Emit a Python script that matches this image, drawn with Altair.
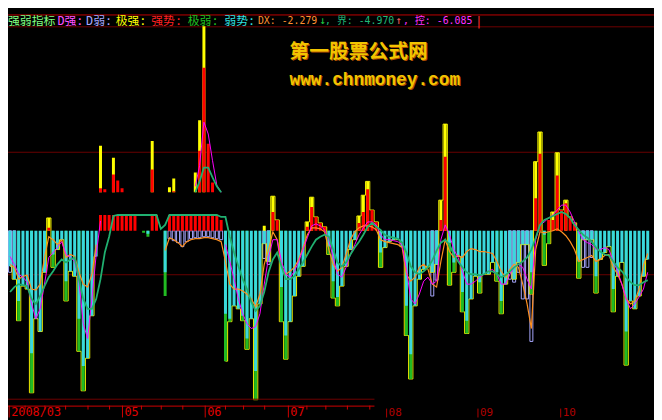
import altair as alt
import pandas as pd

# ---------------- data ----------------
N = 149  # daily bars, 2008/03 .. 2008/10

# 弱势 (cyan sticks, negative)
weak = [
    -3.6, -4.9, -7.1, -5.6, -5.9, -12.4, -8.9, -10.2, -4.2, 0,
    -2.4, -1.9, -0.9, -5.1, -4.1, -4.6, -8.9, -13.7, -12.9, -8.6,
    -2.6, 0, 0, 0, 0, 0, 0, 0, 0, 0,
    0, 0, -0.3, 0, 0, 0, -4.2, 0, 0, 0,
    0, 0, 0, 0, 0, 0, 0, 0, 0, 0,
    -8.4, -8.9, -7.6, -7.9, -8.6, -10.9, -8.9, -14.2, -7.4, -1.3,
    -3.1, 0, 0, -5.7, -10.6, -9.2, -6.6, -4.6, -3.6, 0,
    0, 0, 0, 0, -1.6, -5.1, -6.7, -5.6, -3.6, -1.9,
    -0.9, 0, 0, 0, 0, 0, -2.2, -1.7, -1.1, -0.9,
    -0.9, -1.6, -7.6, -12.5, -7.6, -4.9, -3.9, -3.6, -4.2, -3.4,
    0, 0, -1.2, -3.2, -2.6, -6.2, -9.1, -6.9, -4.6, -5.2,
    -4.4, -4.4, -3.2, -4.2, -7.1, -5.4, -4.2, -4.9, -3.2, -1.4,
    -1.4, -4.2, 0, 0, -0.4, 0, 0, 0, 0, 0,
    0, 0, -3.1, -0.9, -0.9, -0.9, -4.6, -2.9, -2.2, -1.6,
    -5.9, -4.6, -3.2, -10.2, -7.1, -7.9, -6.6, -4.6, -2.9,
]

# 极弱 (green sticks)
extreme_weak = {2: -9.1, 5: -16.4, 10: -3.7, 13: -7.1, 16: -12.2, 17: -16.2, 31: -0.2, 32: -0.6,
                36: -6.6, 50: -13.2, 51: -9.2, 54: -9.1, 55: -12.0, 57: -17.1, 63: -9.2, 64: -13.0,
                74: -2.4, 75: -6.8, 76: -7.6, 86: -3.7, 92: -10.6, 93: -15.0, 102: -5.5, 103: -4.2,
                105: -8.2, 106: -10.4, 109: -6.3, 113: -5.1, 114: -8.4, 121: -6.4, 124: -3.5,
                125: -1.3, 132: -4.8, 136: -6.3, 140: -8.2, 143: -13.6}

# 强势 (red sticks)
strong = {9: 0.3, 61: 1.9, 62: 1.1, 69: 0.4, 70: 2.4, 71: 1.4, 72: 0.8, 73: 0.4, 81: 0.8, 82: 1.9,
          83: 4.2, 84: 2.1, 85: 0.9, 100: 1.1, 101: 7.5, 122: 3.3, 123: 7.8, 125: 1.1, 126: 1.1,
          127: 5.6, 128: 2.1, 129: 2.8, 130: 1.4, 131: 0.8}

# 极强 (yellow sticks)
extreme_strong = {9: 1.3, 59: 0.5, 61: 3.5, 69: 0.9, 70: 3.4, 81: 1.5, 82: 3.6, 83: 5.0, 100: 3.1,
                  101: 10.8, 122: 7.0, 123: 10.0, 126: 1.9, 127: 7.9, 129: 3.1}

# D弱 (lavender hollow sticks)
d_weak = {0: -4.2, 1: -3.5, 37: -0.8, 38: -1.0, 39: -1.2, 40: -1.6, 41: -1.1, 42: -0.8, 43: -0.7,
          44: -0.7, 45: -0.6, 46: -0.6, 47: -0.7, 48: -0.8, 49: -0.9, 59: -2.8, 60: -3.4,
          98: -6.6, 99: -5.0, 116: -4.9, 117: -5.2, 118: -4.2, 119: -6.9, 120: -6.9, 121: -11.2,
          133: -3.7, 134: -3.7, 135: -2.7}

# red band drawn over the spring segment
band_index = [21, 22, 23, 24, 25, 26, 27, 28, 29, 33, 34, 37, 38, 39, 40, 41, 42, 43, 44, 45, 46, 47, 48, 49]
band_value = [1.6, 1.6, 1.6, 1.6, 1.6, 1.6, 1.6, 1.6, 1.6, 1.6, 1.6, 1.6, 1.6, 1.6, 1.6, 1.6, 1.6,
              1.6, 1.6, 1.6, 1.6, 1.6, 1.6, 1.1]

# raised segment (spikes standing on a shifted base)
upper_base = 3.9
upper_strong = {21: 4.3, 22: 4.2, 24: 5.7, 25: 5.1, 26: 4.3, 33: 6.2, 38: 4.0, 44: 8.1, 45: 16.5,
                46: 8.8, 47: 4.9}
upper_extreme = {21: 8.6, 24: 7.4, 33: 9.1, 37: 4.4, 38: 5.3, 43: 5.9, 44: 11.2, 45: 20.7}
upper_ctrl = {43: 4.5, 44: 6.6, 45: 11.0, 46: 9.8, 47: 7.1, 48: 4.6, 49: 3.9}
upper_bound = {43: 3.9, 44: 5.0, 45: 6.4, 46: 6.4, 47: 5.4, 48: 4.5, 49: 3.9}

# DX (orange line)
dx = [
    -3.4, -3.7, -4.9, -4.6, -4.5, -5.9, -6.0, -5.4, -2.7, -0.6,
    -0.9, -1.4, -0.9, -2.7, -2.4, -2.6, -4.2, -5.4, -5.7, -4.4,
    -1.4, None, None, None, None, None, None, None, None, None,
    None, None, None, None, None, None, -2.0, -0.7, -0.9, -1.2,
    -1.6, -1.1, -0.9, -0.8, -0.8, -0.7, -0.7, -0.8, -0.9, -1.1,
    -3.1, -5.4, -5.9, -5.9, -6.1, -6.4, -6.9, -7.7, -6.4, -3.4,
    -1.9, -0.1, -0.9, -3.7, -4.4, -4.1, -3.7, -2.9, -1.7, -0.4,
    0.3, 0.3, 0.2, -0.1, -1.9, -3.4, -4.1, -3.7, -2.4, -0.9,
    -0.1, 0.3, 0.5, 0.5, 0.4, 0.1, -0.9, -1.1, -1.2, -1.3,
    -1.4, -1.7, -4.4, -5.1, -4.7, -3.7, -3.4, -3.9, -5.4, -5.7,
    -3.1, -0.9, -2.1, -2.7, -2.5, -2.7, -2.1, -1.8, -1.9, -2.1,
    -2.1, -2.2, -2.3, -3.1, -4.1, -4.7, -3.9, -3.4, -3.7, -5.4,
    -7.4, -9.9, -1.9, -0.1, -0.2, -0.1, 0.0, 0.2, -0.1, -0.5,
    -1.1, -1.9, -3.1, -2.9, -2.7, -2.5, -3.1, -2.9, -2.5, -2.4,
    -3.7, -4.4, -5.4, -6.9, -7.4, -7.1, -5.9, -3.5, -2.3,
]

# 控 (magenta line)
ctrl = [
    -2.6, -3.4, -4.4, -4.7, -5.2, -7.4, -8.9, -7.9, -5.4, -2.7,
    -2.2, -1.7, -1.1, -2.4, -2.7, -3.1, -5.1, -9.4, -10.9, -6.9,
    -2.4, 1.0, None, None, None, None, None, None, None, None,
    None, None, None, None, None, None, None, None, None, None,
    None, None, None, None, None, None, None, None, None, None,
    -1.4, -3.1, -4.9, -6.9, -8.4, -9.4, -9.9, -9.7, -8.4, -5.4,
    -2.7, -0.9, -0.9, -3.1, -4.4, -4.7, -4.1, -3.1, -1.9, -0.7,
    0.5, 0.7, 0.5, 0.1, -0.9, -2.7, -4.4, -4.7, -3.7, -2.4,
    -1.4, -0.4, 0.3, 0.9, 0.9, 0.6, -0.4, -0.9, -0.9, -1.0,
    -1.1, -1.4, -3.9, -6.9, -7.4, -6.4, -5.1, -4.7, -5.4, -5.1,
    -0.9, 0.6, -0.4, -1.9, -2.7, -4.1, -5.4, -5.4, -5.1, -4.7,
    -4.4, -4.1, -3.9, -4.4, -5.4, -5.4, -4.4, -3.7, -3.4, -3.7,
    -4.9, -5.9, -0.9, 0.6, 0.9, 1.3, 1.6, 2.1, 2.6, 2.6,
    1.9, 0.9, -0.1, -0.9, -1.2, -1.4, -1.9, -1.9, -1.7, -1.9,
    -3.1, -4.1, -5.4, -6.9, -7.9, -7.4, -6.7, -5.9, -4.2,
]

# 界 (green line)
bound = [
    -6.2, -5.7, -5.4, -5.5, -5.6, -6.9, -7.4, -6.6, -5.6, -4.7,
    -4.1, -3.4, -2.9, -3.2, -2.9, -2.7, -4.9, -6.9, -7.9, -7.9,
    -6.9, -4.9, -2.2, -0.6, 1.5, 1.6, 1.6, 1.6, 1.6, 1.6,
    1.6, 1.6, 1.6, 1.6, 1.6, 0.2, 0.6, 1.6, 1.6, 1.6,
    1.6, 1.6, 1.6, 1.6, 1.6, 1.6, 1.6, 1.6, 1.6, 1.4,
    1.4, -0.6, -2.2, -3.6, -4.9, -5.9, -7.2, -8.1, -7.6, -6.2,
    -4.2, -2.9, -2.2, -3.6, -4.9, -4.9, -4.6, -3.9, -3.2, -2.4,
    -1.6, -0.9, -0.6, -0.4, -0.6, -1.9, -3.2, -3.6, -3.2, -2.4,
    -1.7, -1.1, -0.4, 0.4, 0.8, 0.4, 0.1, -0.4, -0.6, -0.7,
    -0.8, -1.2, -2.2, -3.6, -4.2, -4.4, -4.1, -3.7, -3.0, -2.0,
    -1.2, -0.9, -1.4, -2.4, -3.1, -3.7, -4.2, -4.4, -4.4, -4.5,
    -4.4, -4.1, -4.1, -4.4, -4.7, -4.5, -4.1, -3.7, -3.4, -3.1,
    -2.7, -1.9, -0.7, 0.6, 1.1, 1.3, 1.5, 1.7, 1.9, 1.7,
    1.3, 0.6, 0.1, -0.4, -0.7, -1.1, -1.7, -2.1, -2.4, -2.5,
    -3.1, -3.7, -4.1, -4.7, -5.2, -5.5, -5.5, -5.2, -5.0,
]

grid_levels = [7.95, -4.45]

month_labels = ["2008/03", "05", "06", "07"]
month_pos = [-0.2, 26.1, 45.3, 64.6]
late_month_labels = ["08", "09", "10"]
late_month_pos = [87.4, 108.6, 127.8]
week_pos = [3.5, 8.1, 12.9, 18.1, 23.1, 30.5, 35.1, 40.1, 50.0, 54.2, 59.1, 68.9, 73.3, 78.3, 83.5]

header_texts = ["强弱指标", "D强:", "D弱:", "极强:", "强势:", "极弱:", "弱势:", "DX: -2.279", "↓",
                ", 界: -4.970", "↑", ", 控: -6.085", "|"]
header_colors = ["#80ff80", "#ff50ff", "#a8a8ff", "#ffff00", "#ff2020", "#20c020", "#30e0e0",
                 "#ff9030", "#20d040", "#20b878", "#ff6060", "#ff30ff", "#ff3030"]
header_x = [0, 50, 79, 109, 145, 182, 219, 253, 315, 321, 392, 400, 473]
header_size = [12, 12, 12, 12, 12, 12, 12, 10, 11, 10, 11, 10, 12]

# ---------------- helpers ----------------
W, H = 654, 412
XS = alt.Scale(domain=[0.677, 148.31], nice=False, zero=False)
YS = alt.Scale(domain=[-18.9, 22.3], nice=False, zero=False)


def X():
    return alt.X("i:Q", scale=XS, axis=None)


def Y():
    return alt.Y("v:Q", scale=YS, axis=None)


def sparse(d):
    return pd.DataFrame({"i": list(d.keys()), "v": list(d.values())})


def dense(vals):
    rows, seg = [], 0
    for i, v in enumerate(vals):
        if v is None:
            seg += 1
            continue
        rows.append({"i": i, "v": v, "seg": seg})
    return pd.DataFrame(rows)


def bars(df, color, base=0.0):
    return alt.Chart(df).mark_bar(size=3, color=color, clip=True).encode(
        x=X(), y=Y(), y2=alt.datum(base))


def line(df, color, width):
    return alt.Chart(df).mark_line(color=color, strokeWidth=width, clip=True).encode(
        x=X(), y=Y(), detail="seg:N")


weak_df = pd.DataFrame({"i": list(range(N)), "v": weak})
weak_df = weak_df[weak_df.v != 0]

# raw value (tip of each stick) for the thin yellow step line
tips = []
for i in range(N):
    if 21 <= i <= 49:
        tips.append(None)
    elif i in extreme_weak:
        tips.append(extreme_weak[i])
    elif weak[i] != 0:
        tips.append(weak[i])
    elif i in extreme_strong:
        tips.append(extreme_strong[i])
    elif i in strong:
        tips.append(strong[i])
    else:
        tips.append(0.0)

layers = []

# grid
layers.append(alt.Chart(pd.DataFrame({"v": grid_levels})).mark_rule(color="#6a0000", strokeWidth=1).encode(y=Y()))
# header lines
layers.append(alt.Chart(pd.DataFrame({"a": [0]})).mark_rule(color="#c00000", strokeWidth=1).encode(
    x=alt.value(0), x2=alt.value(W), y=alt.value(4.5)))
layers.append(alt.Chart(pd.DataFrame({"a": [0]})).mark_rule(color="#700000", strokeWidth=1).encode(
    x=alt.value(0), x2=alt.value(W), y=alt.value(16.5)))

# lavender hollow sticks
layers.append(alt.Chart(sparse(d_weak)).mark_bar(size=3, fillOpacity=0, stroke="#a8a8ff", strokeWidth=1, clip=True).encode(
    x=X(), y=Y(), y2=alt.datum(0)))
# yellow raw step line
layers.append(alt.Chart(dense(tips)).mark_line(color="#f0f000", strokeWidth=1, interpolate="step", clip=True).encode(
    x=X(), y=Y(), detail="seg:N"))

layers.append(bars(sparse(extreme_weak), "#22bb22"))
layers.append(bars(weak_df, "#3ad8dc"))
layers.append(bars(sparse(extreme_strong), "#ffff00"))
layers.append(bars(sparse(strong), "#ff0000"))
layers.append(bars(pd.DataFrame({"i": band_index, "v": band_value}), "#ff0000"))
layers.append(bars(sparse(upper_extreme), "#ffff00", upper_base))
layers.append(bars(sparse(upper_strong), "#ff0000", upper_base))

# indicator lines
layers.append(line(dense(dx), "#ff9020", 1.2))
layers.append(line(dense(ctrl), "#ff00ff", 1.0))
layers.append(line(dense(bound), "#20b070", 1.8))
layers.append(line(dense([upper_ctrl.get(i) for i in range(N)]), "#ff00ff", 1.0))
layers.append(line(dense([upper_bound.get(i) for i in range(N)]), "#20b070", 1.8))

# header legend texts
for t, c, xp, fs in zip(header_texts, header_colors, header_x, header_size):
    layers.append(alt.Chart(pd.DataFrame({"t": [t]})).mark_text(
        align="left", baseline="middle", color=c, fontSize=fs,
        font="DejaVu Sans Mono, Noto Sans CJK SC").encode(
        text="t:N", x=alt.value(xp), y=alt.value(10.5)))

# watermark
for dxo, col in [(1, "#b05000"), (0, "#f2c400")]:
    layers.append(alt.Chart(pd.DataFrame({"t": ["第一股票公式网"]})).mark_text(
        align="left", baseline="middle", color=col, fontSize=20, fontWeight="bold",
        font="Noto Sans CJK SC").encode(text="t:N", x=alt.value(285 + dxo), y=alt.value(42 + dxo)))
    layers.append(alt.Chart(pd.DataFrame({"t": ["www.chnmoney.com"]})).mark_text(
        align="left", baseline="alphabetic", color=col, fontSize=18, fontWeight="bold",
        font="Liberation Mono").encode(text="t:N", x=alt.value(285 + dxo), y=alt.value(75 + dxo)))

# bottom axis
layers.append(alt.Chart(pd.DataFrame({"a": [0]})).mark_rule(color="#700000", strokeWidth=1).encode(
    x=alt.value(0), x2=alt.value(371), y=alt.value(393.5)))
layers.append(alt.Chart(pd.DataFrame({"a": [0]})).mark_rule(color="#d00000", strokeWidth=1).encode(
    x=alt.value(0), x2=alt.value(371), y=alt.value(400.5)))
layers.append(alt.Chart(pd.DataFrame({"i": week_pos})).mark_rule(color="#d00000", strokeWidth=1).encode(
    x=X(), y=alt.value(400), y2=alt.value(404)))
months = pd.DataFrame({"i": month_pos, "t": month_labels})
layers.append(alt.Chart(months).mark_rule(color="#d00000", strokeWidth=1).encode(
    x=X(), y=alt.value(400), y2=alt.value(412)))
layers.append(alt.Chart(months).mark_text(align="left", baseline="top", dx=2, color="#e00000",
                                          fontSize=12, font="DejaVu Sans Mono").encode(
    x=X(), y=alt.value(401), text="t:N"))
late = pd.DataFrame({"i": late_month_pos, "t": late_month_labels})
layers.append(alt.Chart(late).mark_rule(color="#b00000", strokeWidth=1).encode(
    x=X(), y=alt.value(403), y2=alt.value(412)))
layers.append(alt.Chart(late).mark_text(align="left", baseline="top", dx=2, color="#b00000",
                                        fontSize=11, font="DejaVu Sans Mono").encode(
    x=X(), y=alt.value(401), text="t:N"))

chart = alt.layer(*layers).properties(
    width=W, height=H, background="black", padding=0,
    autosize=alt.AutoSizeParams(type="none"),
).configure_view(strokeWidth=0)

chart.save("out.html", embed_options={"renderer": "svg", "actions": False})
